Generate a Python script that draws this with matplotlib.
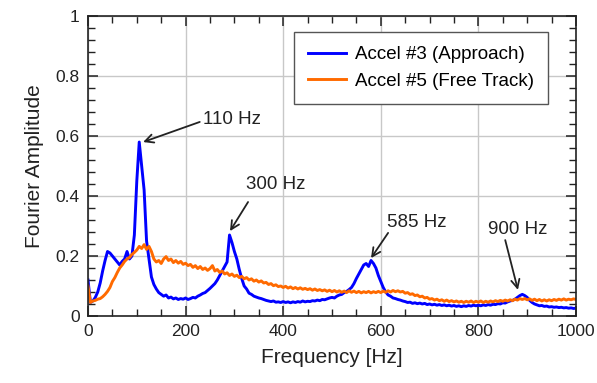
import numpy as np
import matplotlib
matplotlib.use("Agg")
import matplotlib.pyplot as plt
from matplotlib.ticker import MultipleLocator

plt.rcParams["font.family"] = ["Liberation Sans", "DejaVu Sans"]

# frequency grid, 5 Hz steps
freq = np.arange(0, 1001, 5)

# Accel #3 (Approach)
accel3 = [
    0.12, 0.045, 0.05, 0.062, 0.08, 0.11, 0.15, 0.185, 0.215, 0.21,
    0.2, 0.19, 0.18, 0.17, 0.182, 0.19, 0.215, 0.19, 0.2, 0.27,
    0.45, 0.58, 0.5, 0.42, 0.25, 0.19, 0.13, 0.105, 0.09, 0.078,
    0.072, 0.066, 0.07, 0.06, 0.063, 0.057, 0.06, 0.055, 0.058, 0.056,
    0.06, 0.055, 0.058, 0.062, 0.06, 0.066, 0.07, 0.075, 0.078, 0.085,
    0.092, 0.1, 0.108, 0.12, 0.135, 0.15, 0.165, 0.18, 0.27, 0.245,
    0.215, 0.19, 0.155, 0.125, 0.1, 0.09, 0.076, 0.072, 0.066, 0.063,
    0.06, 0.058, 0.055, 0.052, 0.05, 0.048, 0.05, 0.046, 0.047, 0.045,
    0.048, 0.045, 0.047, 0.044, 0.047, 0.045, 0.048, 0.046, 0.05, 0.047,
    0.049, 0.048, 0.051, 0.05, 0.053, 0.051, 0.055, 0.054, 0.057, 0.06,
    0.062, 0.06, 0.066, 0.07, 0.072, 0.078, 0.082, 0.088, 0.095, 0.108,
    0.125, 0.14, 0.155, 0.17, 0.175, 0.165, 0.185, 0.175, 0.16, 0.135,
    0.115, 0.095, 0.08, 0.07, 0.066, 0.06, 0.058, 0.055, 0.053, 0.05,
    0.048, 0.045, 0.046, 0.042, 0.044, 0.041, 0.043, 0.04, 0.042, 0.038,
    0.04, 0.037, 0.039, 0.036, 0.038, 0.035, 0.037, 0.034, 0.036, 0.033,
    0.035, 0.032, 0.034, 0.031, 0.034, 0.032, 0.035, 0.033, 0.036, 0.034,
    0.036, 0.034, 0.037, 0.035, 0.038, 0.036, 0.039, 0.038, 0.041, 0.04,
    0.044, 0.043, 0.047, 0.05, 0.052, 0.056, 0.062, 0.068, 0.072, 0.068,
    0.062, 0.052, 0.045, 0.04, 0.037, 0.034, 0.035, 0.032, 0.033, 0.03,
    0.031, 0.029, 0.03, 0.028, 0.029, 0.027, 0.028, 0.026, 0.027, 0.025,
    0.026,
]

# Accel #5 (Free Track)
accel5 = [
    0.1, 0.045, 0.05, 0.052, 0.056, 0.058, 0.064, 0.072, 0.082, 0.095,
    0.115, 0.128, 0.145, 0.16, 0.17, 0.182, 0.19, 0.195, 0.205, 0.212,
    0.22, 0.232, 0.225, 0.238, 0.222, 0.232, 0.215, 0.19, 0.18, 0.185,
    0.175, 0.19, 0.198, 0.185, 0.19, 0.178, 0.185, 0.176, 0.182, 0.172,
    0.176, 0.168, 0.172, 0.162, 0.168, 0.158, 0.165, 0.155, 0.16, 0.152,
    0.158, 0.168, 0.15, 0.155, 0.145, 0.15, 0.14, 0.144, 0.135, 0.14,
    0.132, 0.136, 0.128, 0.132, 0.124, 0.128, 0.12, 0.124, 0.116, 0.12,
    0.113, 0.117, 0.11, 0.112, 0.105, 0.108, 0.101, 0.104, 0.098, 0.1,
    0.095, 0.099, 0.093, 0.097, 0.091, 0.095, 0.09, 0.094, 0.089, 0.092,
    0.088, 0.091, 0.086, 0.09, 0.085, 0.088, 0.084, 0.087, 0.082, 0.086,
    0.081, 0.085, 0.08, 0.084, 0.079, 0.083, 0.078, 0.084, 0.079, 0.083,
    0.078, 0.082, 0.077, 0.081, 0.078, 0.082, 0.077, 0.081, 0.078, 0.082,
    0.078, 0.083, 0.079, 0.084, 0.08, 0.085, 0.081, 0.084, 0.08, 0.082,
    0.076, 0.078, 0.072, 0.074, 0.068, 0.07, 0.064, 0.066, 0.06, 0.062,
    0.056, 0.058, 0.053, 0.056, 0.051, 0.054, 0.049, 0.053, 0.048, 0.051,
    0.047, 0.05, 0.046, 0.049, 0.045, 0.049, 0.046, 0.05, 0.045, 0.049,
    0.046, 0.05, 0.045, 0.049, 0.046, 0.05, 0.047, 0.051, 0.048, 0.052,
    0.049, 0.053, 0.05, 0.054, 0.051, 0.056, 0.053, 0.058, 0.055, 0.058,
    0.054, 0.057, 0.052, 0.056, 0.051, 0.055, 0.05, 0.054, 0.05, 0.054,
    0.051, 0.055, 0.052, 0.056, 0.053, 0.057, 0.053, 0.056, 0.054, 0.057,
    0.055,
]

series_labels = ["Accel #3 (Approach)", "Accel #5 (Free Track)"]

# peak labels: text, arrow tip (Hz, amp), arrow tail, text anchor
peak_text = ["110 Hz", "300 Hz", "585 Hz", "900 Hz"]
peak_tip = [(113, 0.58), (291, 0.283), (580, 0.193), (881, 0.087)]
peak_tail = [(229, 0.647), (328, 0.38), (615, 0.277), (855, 0.253)]
peak_txt_pos = [(236, 0.655), (323, 0.437), (613, 0.313), (820, 0.287)]

fig = plt.figure(figsize=(5.97, 3.83), dpi=100)
ax = fig.add_axes([0.1474, 0.175, 0.8174, 0.783])

ax.plot(freq, accel3, color="#0000ff", lw=2.1, label=series_labels[0])
ax.plot(freq, accel5, color="#ff6a00", lw=2.1, label=series_labels[1])

for t, tip, tail, pos in zip(peak_text, peak_tip, peak_tail, peak_txt_pos):
    ax.annotate("", xy=tip, xytext=tail,
                arrowprops=dict(arrowstyle="->,head_length=0.6,head_width=0.3",
                                color="#222222", lw=1.3, shrinkA=0, shrinkB=0))
    ax.text(pos[0], pos[1], t, fontsize=13.5, ha="left", va="center", color="#222222")

ax.set_xlim(0, 1000)
ax.set_ylim(0, 1)
ax.xaxis.set_major_locator(MultipleLocator(200))
ax.xaxis.set_minor_locator(MultipleLocator(50))
ax.yaxis.set_major_locator(MultipleLocator(0.2))
ax.yaxis.set_minor_locator(MultipleLocator(0.04))
ax.yaxis.set_major_formatter(plt.FuncFormatter(lambda v, p: "%g" % round(v, 2)))

ax.tick_params(which="both", direction="in", top=True, right=True, colors="#222222",
               labelsize=12.5)
ax.tick_params(which="major", length=7.5, width=1.1, pad=6)
ax.tick_params(which="minor", length=5, width=1.0)
ax.grid(True, which="major", color="#c8c8c8", lw=1.0)
ax.set_axisbelow(True)
for s in ax.spines.values():
    s.set_linewidth(1.2)
    s.set_color("#222222")

ax.set_xlabel("Frequency [Hz]", fontsize=15, color="#222222", labelpad=6)
ax.set_ylabel("Fourier Amplitude", fontsize=15, color="#222222", labelpad=8)

leg = ax.legend(loc="upper right", bbox_to_anchor=(0.9426, 0.9467), borderaxespad=0,
                fontsize=13.5, fancybox=False, framealpha=1, edgecolor="#555555",
                handlelength=2.0, handletextpad=0.5, borderpad=0.75, labelspacing=0.5)
leg.get_frame().set_linewidth(1.0)

fig.savefig("out.png", dpi=100)
